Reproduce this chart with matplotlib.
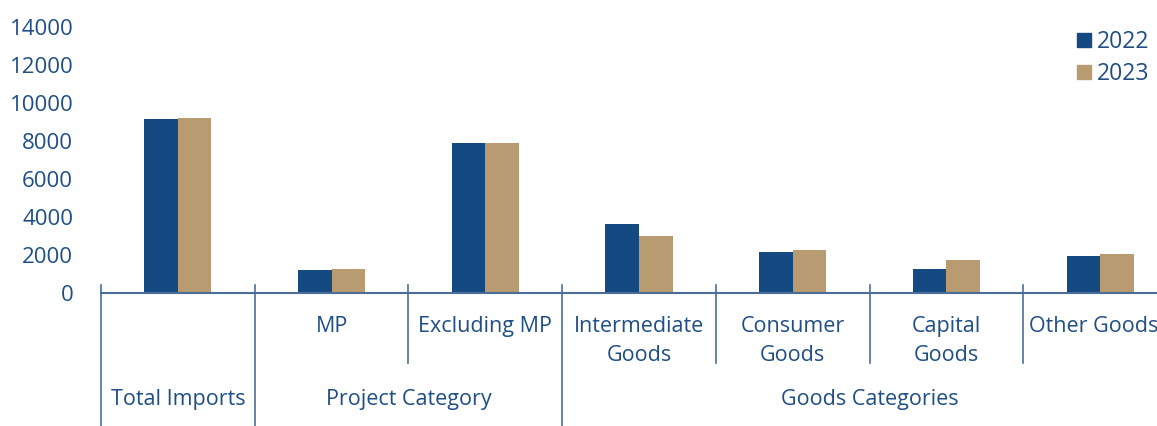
import numpy as np
import matplotlib
matplotlib.use("Agg")
import matplotlib.pyplot as plt
from matplotlib.patches import Patch

plt.rcParams['font.family'] = ['Open Sans', 'DejaVu Sans']

# Imports by category (value in millions)
categories = ['', 'MP', 'Excluding MP', 'Intermediate\nGoods', 'Consumer\nGoods',
              'Capital\nGoods', 'Other Goods']
groups = ['Total Imports', 'Project Category', 'Goods Categories']
group_spans = [(0, 0), (1, 2), (3, 6)]
vals_2022 = [9130, 1210, 7900, 3640, 2170, 1280, 1960]
vals_2023 = [9190, 1260, 7900, 3010, 2270, 1750, 2060]
yticks = [0, 2000, 4000, 6000, 8000, 10000, 12000, 14000]

blue = '#154982'
tan = '#b89b70'
text_c = '#1f4e86'
line_c = '#4a6d9c'

W, H = 1157, 426
fig = plt.figure(figsize=(W / 100, H / 100), dpi=100)
# axes run a little past the right edge of the figure
ax_left, ax_right, ax_top, ax_bot = 101, 1177, 26.7, 293.3
ax = fig.add_axes([ax_left / W, 1 - ax_bot / H, (ax_right - ax_left) / W, (ax_bot - ax_top) / H])
ax_h = ax_bot - ax_top

x = np.arange(len(categories))
bw = 0.218
ax.bar(x - bw / 2, vals_2022, bw, color=blue, label='2022')
ax.bar(x + bw / 2, vals_2023, bw, color=tan, label='2023')

ax.set_xlim(-0.5, len(categories) - 0.5)
ax.set_ylim(0, 14000)
ax.set_yticks(yticks)
ax.set_yticklabels([str(v) for v in yticks])
ax.set_xticks([])
ax.tick_params(axis='y', length=0, pad=20, labelsize=16, labelcolor=text_c)
for s in ['left', 'right', 'top']:
    ax.spines[s].set_visible(False)
ax.spines['bottom'].set_color(line_c)
ax.spines['bottom'].set_linewidth(1.5)

trans = ax.get_xaxis_transform()
top_y = 8 / ax_h
inner_bot = -(363 - ax_bot) / ax_h
outer_bot = -(H - ax_bot) / ax_h

# separators between categories and between groups
group_edges = {a - 0.5 for a, b in group_spans}
for edge in np.arange(len(categories)) - 0.5:
    bot = outer_bot if edge in group_edges else inner_bot
    ax.plot([edge, edge], [top_y, bot], color=line_c, lw=1.2, transform=trans, clip_on=False)

# category labels (last one nudged so it stays inside the figure)
for xi, lab in zip(x, categories):
    if not lab:
        continue
    dx = -5 if xi == len(categories) - 1 else 0
    ax.annotate(lab, (xi, -(316 - ax_bot) / ax_h), xycoords=trans,
                xytext=(dx, 0), textcoords='offset points', ha='center', va='top',
                fontsize=15.5, color=text_c, linespacing=1.5, annotation_clip=False)

# group labels
for lab, (a, b) in zip(groups, group_spans):
    ax.text((a + b) / 2, -(400 - ax_bot) / ax_h, lab, transform=trans, ha='center',
            va='center', fontsize=15.5, color=text_c, clip_on=False)

handles = [Patch(color=blue, label='2022'), Patch(color=tan, label='2023')]
fig.legend(handles=handles, loc='upper right', bbox_to_anchor=(1149 / W, 1 - 30 / H),
           frameon=False, fontsize=16.5, handlelength=0.62, handleheight=0.62,
           handletextpad=0.25, labelspacing=0.35, borderpad=0, borderaxespad=0,
           labelcolor=text_c)

fig.savefig('out.png', dpi=100, facecolor='white')
